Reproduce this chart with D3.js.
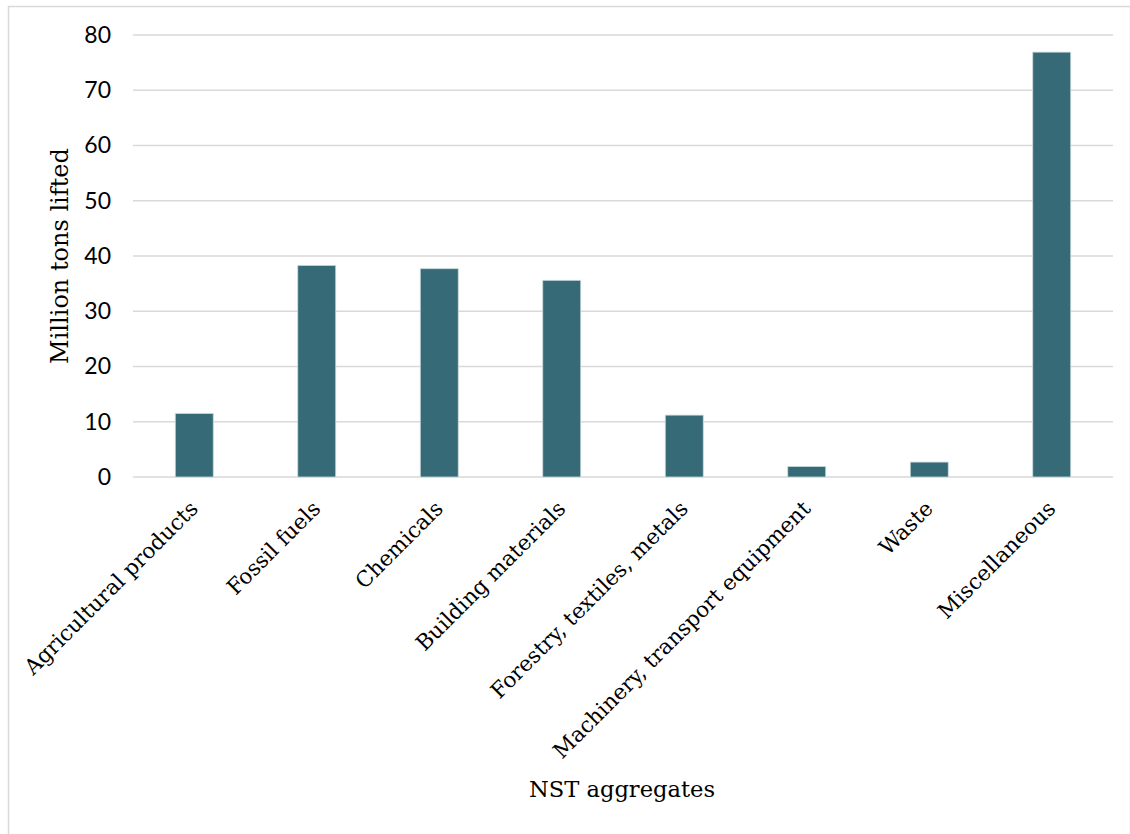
<!DOCTYPE html>
<html>
<head>
<meta charset="utf-8">
<script src="https://cdn.jsdelivr.net/npm/d3@7"></script>
<style>
  html, body { margin: 0; padding: 0; background: #fff; }
  svg { display: block; }
</style>
</head>
<body>
<svg id="chart" width="1130" height="834"></svg>
<script>
// Tonnage lifted by NST commodity aggregate
const categories = [
  "Agricultural products",
  "Fossil fuels",
  "Chemicals",
  "Building materials",
  "Forestry, textiles, metals",
  "Machinery, transport equipment",
  "Waste",
  "Miscellaneous"
];
const tonsLifted = [11.5, 38.3, 37.7, 35.6, 11.2, 1.9, 2.7, 76.9];
const yTicks = [0, 10, 20, 30, 40, 50, 60, 70, 80];

const svg = d3.select("#chart");
const W = 1130, H = 834;
const plot = { left: 133, right: 1113, top: 35, bottom: 477 };

// outer frame
svg.append("rect")
  .attr("x", 8.5).attr("y", 6.5)
  .attr("width", W - 8).attr("height", H - 5)
  .attr("fill", "#fff")
  .attr("stroke", "#d9d9d9").attr("stroke-width", 1.5);

const x = d3.scaleBand()
  .domain(categories)
  .range([plot.left, plot.right])
  .paddingInner(0.69)
  .paddingOuter(0.345);

const y = d3.scaleLinear()
  .domain([0, 80])
  .range([plot.bottom, plot.top]);

// horizontal gridlines
svg.append("g")
  .selectAll("line")
  .data(yTicks)
  .join("line")
  .attr("x1", plot.left).attr("x2", plot.right)
  .attr("y1", d => y(d)).attr("y2", d => y(d))
  .attr("stroke", "#d9d9d9").attr("stroke-width", 1.5);

// y axis tick labels
const yAxis = d3.axisLeft(y).tickValues(yTicks).tickSize(0).tickPadding(0);
const gy = svg.append("g")
  .attr("transform", `translate(${plot.left - 22},0)`)
  .call(yAxis);
gy.select(".domain").remove();
gy.selectAll("text")
  .attr("font-family", "Lato, sans-serif")
  .attr("font-size", 23)
  .attr("fill", "#000");

// bars
svg.append("g")
  .selectAll("rect")
  .data(categories.map((c, i) => ({ c, v: tonsLifted[i] })))
  .join("rect")
  .attr("x", d => x(d.c))
  .attr("y", d => y(d.v))
  .attr("width", x.bandwidth())
  .attr("height", d => y(0) - y(d.v))
  .attr("fill", "#366a76")
  .attr("stroke", "#c9dadd")
  .attr("stroke-width", 0.8);

// category labels, rotated
const xAxis = d3.axisBottom(x).tickSize(0).tickPadding(0);
const gx = svg.append("g")
  .attr("transform", `translate(0,${plot.bottom})`)
  .call(xAxis);
gx.select(".domain").remove();
gx.selectAll("text")
  .attr("font-family", "'DejaVu Serif', serif")
  .attr("font-size", 21.5)
  .attr("fill", "#000")
  .attr("text-anchor", "end")
  .attr("dy", null)
  .attr("y", 0)
  .attr("transform", "translate(5,33) rotate(-45)");

// axis titles
svg.append("text")
  .attr("transform", `translate(68,${(plot.top + plot.bottom) / 2}) rotate(-90)`)
  .attr("text-anchor", "middle")
  .attr("font-family", "'DejaVu Serif', serif")
  .attr("font-size", 24)
  .attr("fill", "#000")
  .text("Million tons lifted");

svg.append("text")
  .attr("x", 622).attr("y", 797)
  .attr("text-anchor", "middle")
  .attr("font-family", "'DejaVu Serif', serif")
  .attr("font-size", 22.6)
  .attr("fill", "#000")
  .text("NST aggregates");
</script>
</body>
</html>
